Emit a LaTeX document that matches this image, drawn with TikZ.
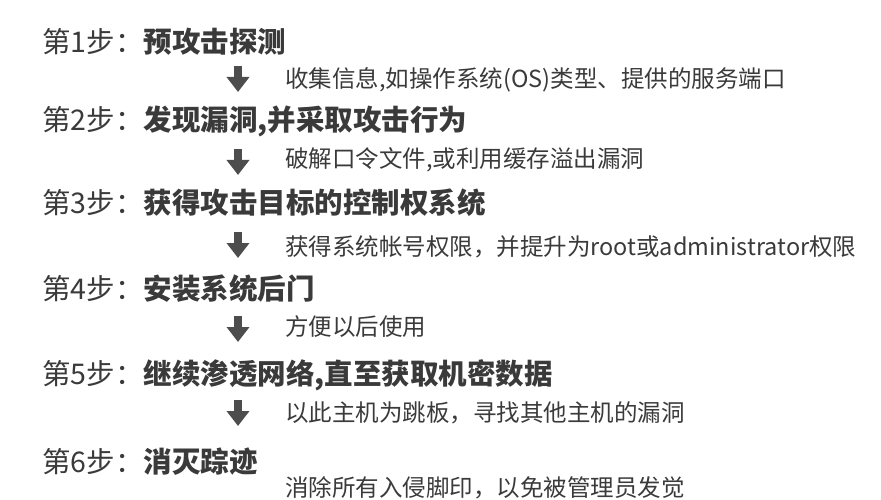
\documentclass[tikz,border=0pt]{standalone}
\usepackage{fontspec}
\newfontfamily\cjk{Noto Sans CJK SC}
\usetikzlibrary{arrows.meta}
\definecolor{gristexte}{HTML}{3A3A3A}
\definecolor{grisfleche}{HTML}{4D4D4D}

\begin{document}
\begin{tikzpicture}[x=1pt,y=-1pt]
\tikzset{etape/.style={anchor=west, inner sep=0pt, text=gristexte, font=\cjk\fontsize{28.5}{32}\selectfont}}
\tikzset{explic/.style={anchor=west, inner sep=0pt, text=gristexte, font=\cjk\fontsize{23.5}{27}\selectfont}}
\tikzset{fleche/.style={draw=grisfleche, line width=8pt, -{Triangle[length=15pt,width=22pt]}}}
\useasboundingbox (0,0) rectangle (881,500);
\node[etape] (E1) at (42,42) {第1步：\textbf{预攻击探测}};
\node[etape] (E2) at (42,121) {第2步：\textbf{发现漏洞,并采取攻击行为}};
\node[etape] (E3) at (42,203) {第3步：\textbf{获得攻击目标的控制权系统}};
\node[etape] (E4) at (42,289) {第4步：\textbf{安装系统后门}};
\node[etape] (E5) at (42,375) {第5步：\textbf{继续渗透网络,直至获取机密数据}};
\node[etape] (E6) at (42,462) {第6步：\textbf{消灭踪迹}};
\node[explic] (D1) at (285,80) {收集信息,如操作系统(OS)类型、提供的服务端口};
\node[explic] (D2) at (285,160) {破解口令文件,或利用缓存溢出漏洞};
\node[explic] (D3) at (285,247) {获得系统帐号权限，并提升为root或administrator权限};
\node[explic] (D4) at (285,327) {方便以后使用};
\node[explic] (D5) at (285,413) {以此主机为跳板，寻找其他主机的漏洞};
\node[explic] (D6) at (285,488) {消除所有入侵脚印，以免被管理员发觉};
\coordinate (F1a) at (238,66);
\coordinate (F1b) at (238,92);
\coordinate (F2a) at (238,149);
\coordinate (F2b) at (238,175);
\coordinate (F3a) at (238,232);
\coordinate (F3b) at (238,258);
\coordinate (F4a) at (238,316);
\coordinate (F4b) at (238,342);
\coordinate (F5a) at (238,400);
\coordinate (F5b) at (238,426);
\draw[fleche] (F1a) -- (F1b);
\draw[fleche] (F2a) -- (F2b);
\draw[fleche] (F3a) -- (F3b);
\draw[fleche] (F4a) -- (F4b);
\draw[fleche] (F5a) -- (F5b);
\end{tikzpicture}
\end{document}
